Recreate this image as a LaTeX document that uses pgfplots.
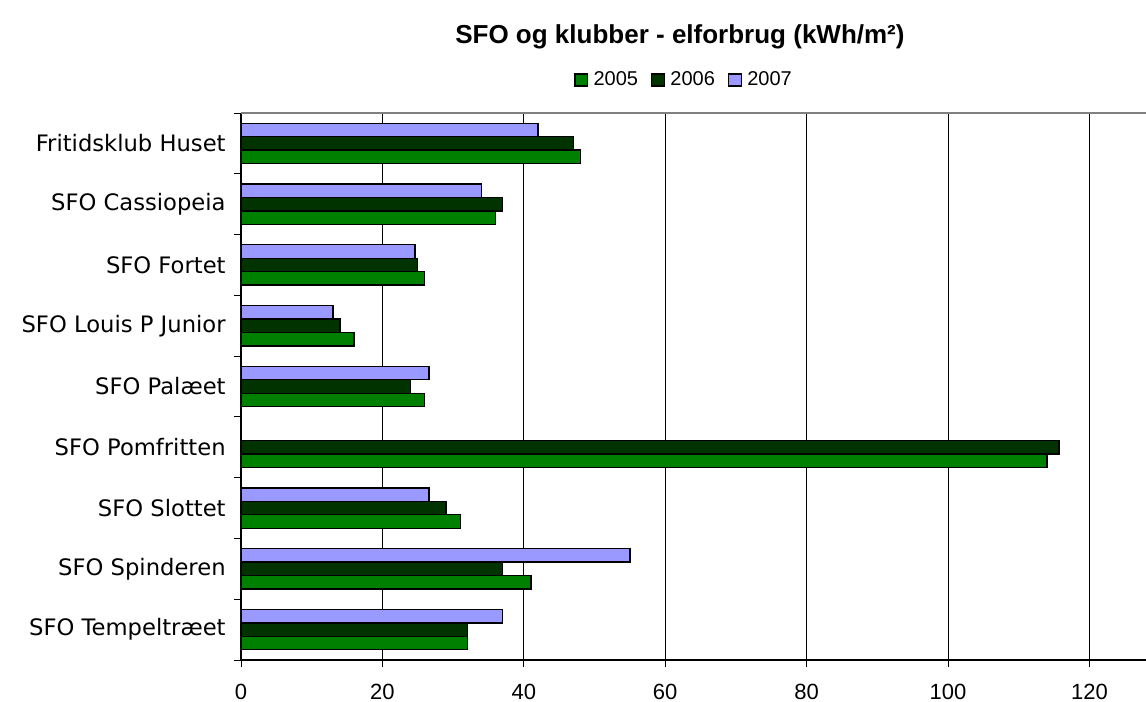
\documentclass[border=0pt]{standalone}
\usepackage{fontspec}
\setmainfont{Liberation Sans}
\newfontfamily\labfont{DejaVu Sans}
\usepackage{pgfplots}
\pgfplotsset{compat=1.18}

\definecolor{gA}{HTML}{008000}
\definecolor{gB}{HTML}{003300}
\definecolor{lav}{HTML}{9999FF}

% values, y = category position (0 = bottom)
\pgfplotstableread{
y  a2005 a2006 a2007
0  32    32    37
1  41    37    55
2  31    29    26.6
3  114   115.7 nan
4  26    24    26.6
5  16    14    13
6  26    25    24.6
7  36    37    34
8  48    47    42
}\elforbrug

\begin{document}
\begin{tikzpicture}
\begin{axis}[
    scale only axis,
    width=678.75pt, height=410.25pt,
    xbar, bar width=10.1pt,
    xmin=0, xmax=128, ymin=-0.5, ymax=8.5,
    axis lines*=left,
    axis line style={-, black, line width=0.8pt},
    xtick={0,20,...,120},
    xmajorgrids, grid style={black, line width=0.6pt},
    tick align=outside,
    major tick length=5.25pt,
    tick style={black, line width=0.7pt},
    ytick={-0.5,0.5,...,8.5},
    yticklabels={},
    extra y ticks={0,...,8},
    extra y tick labels={SFO Tempeltræet,SFO Spinderen,SFO Slottet,SFO Pomfritten,SFO Palæet,SFO Louis P Junior,SFO Fortet,SFO Cassiopeia,Fritidsklub Huset},
    extra y tick style={major tick length=0pt, tick style={draw=none}},
    yticklabel style={font=\labfont\fontsize{17}{20}\selectfont, xshift=-8pt},
    xticklabel style={font=\fontsize{16.5}{19}\selectfont, yshift=-9pt},
    /pgf/number format/assume math mode=true,
    title={SFO og klubber - elforbrug (kWh/m²)},
    title style={font=\bfseries\fontsize{19.5}{23}\selectfont, at={(0.485,1)}, anchor=center, yshift=51pt},
    legend columns=-1,
    legend style={draw=none, fill=none, at={(0.49,1)}, anchor=center, yshift=24.75pt,
        font=\fontsize{15}{18}\selectfont,
        /tikz/every odd column/.append style={column sep=2pt},
        /tikz/every even column/.append style={column sep=8pt}},
    legend image code/.code={\draw[#1, line width=0.8pt] (0pt,-4.5pt) rectangle (9.5pt,4.5pt);},
]
\addplot[fill=gA, draw=black, line width=1pt, bar shift=-10.1pt] table[x=a2005, y=y] {\elforbrug};
\addlegendentry{2005}
\addplot[fill=gB, draw=black, line width=1pt, bar shift=0pt] table[x=a2006, y=y] {\elforbrug};
\addlegendentry{2006}
\addplot[fill=lav, draw=black, line width=1pt, bar shift=10.1pt] table[x=a2007, y=y] {\elforbrug};
\addlegendentry{2007}
\draw[gray, line width=1.1pt] (rel axis cs:0,1) -- (rel axis cs:1,1);
\end{axis}
\pgfresetboundingbox
\useasboundingbox (-180.75pt,-31.5pt) rectangle (678.75pt,495pt);
\end{tikzpicture}
\end{document}
